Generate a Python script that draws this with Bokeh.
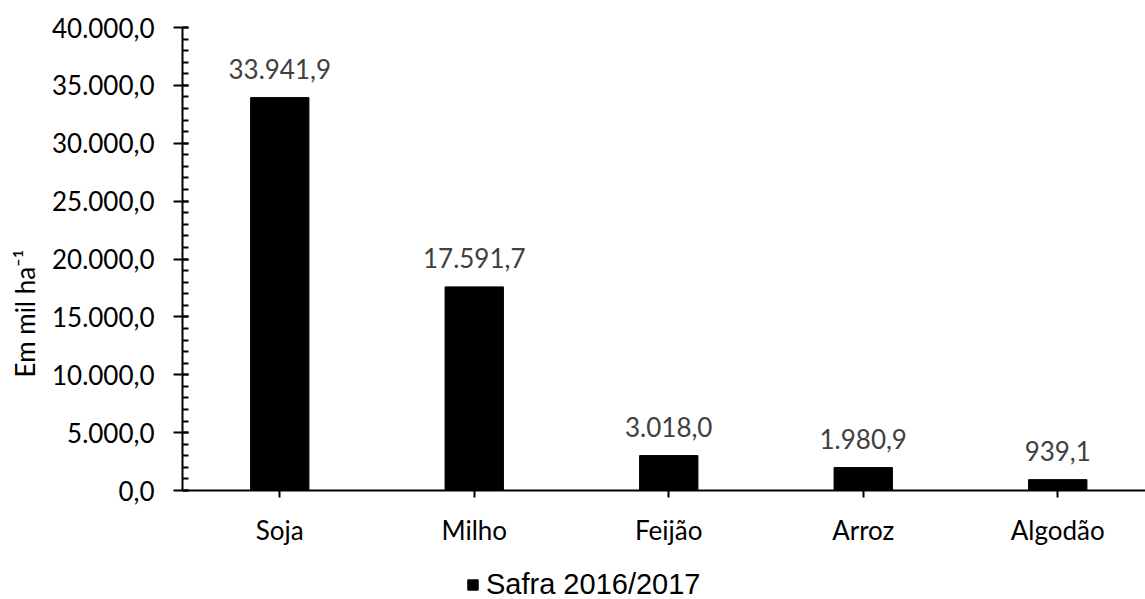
from bokeh.plotting import figure
from bokeh.models import Range1d, FixedTicker, ColumnDataSource, LabelSet, Legend, LegendItem
from bokeh.core.properties import value
from bokeh.embed import file_html
from bokeh.resources import INLINE

categories = ["Soja", "Milho", "Feijão", "Arroz", "Algodão"]
values = [33941.9, 17591.7, 3018.0, 1980.9, 939.1]
series_name = "Safra 2016/2017"
y_ticks = [0, 5000, 10000, 15000, 20000, 25000, 30000, 35000, 40000]
y_minor = [1000 * i for i in range(41)]
y_label = "Em mil ha⁻¹"


def br(v):
    s = f"{v:,.1f}"
    return s.replace(",", "X").replace(".", ",").replace("X", ".")


FONT = "Lato"
FS = "26px"

# layout (pixels)
W = 1145
H = 599
LEFT = 182
TOP = 27
ZERO_PX = 490
CAT_PX = 194.5
Y_MAX = 40000
units_per_px = Y_MAX / (ZERO_PX - TOP)
y_start = -(H - ZERO_PX) * units_per_px
x_end = (W - LEFT) / CAT_PX

xs = [i + 0.5 for i in range(len(categories))]
src = ColumnDataSource(dict(x=xs, top=values, label=[br(v) for v in values]))

p = figure(width=W, height=H,
           x_range=Range1d(0, x_end), y_range=Range1d(y_start, Y_MAX),
           output_backend="svg", toolbar_location=None,
           min_border_left=LEFT, min_border_right=0,
           min_border_top=TOP, min_border_bottom=0)
p.outline_line_color = None
p.xgrid.grid_line_color = None
p.ygrid.grid_line_color = None
p.background_fill_color = "white"
p.border_fill_color = "white"

r = p.vbar(x="x", top="top", bottom=0, width=0.3, source=src,
           fill_color="black", line_color="black")

labels = LabelSet(x="x", y="top", text="label", source=src,
                  text_align="center", text_baseline="alphabetic",
                  y_offset=19, text_font=value(FONT), text_font_size=FS,
                  text_color="#404040")
p.add_layout(labels)

# y axis
ya = p.yaxis[0]
ya.bounds = (0, Y_MAX)
ya.ticker = FixedTicker(ticks=y_ticks, minor_ticks=y_minor)
ya.major_label_overrides = {t: br(t) for t in y_ticks}
ya.major_label_text_font = FONT
ya.major_label_text_font_size = FS
ya.major_label_text_color = "black"
ya.major_label_standoff = 19
ya.axis_line_width = 2
ya.axis_line_color = "black"
ya.major_tick_line_width = 2
ya.minor_tick_line_width = 2
ya.major_tick_out = 9
ya.major_tick_in = 6
ya.minor_tick_in = 6
ya.minor_tick_out = 0
ya.axis_label = y_label
ya.axis_label_text_font = FONT
ya.axis_label_text_font_size = FS
ya.axis_label_text_font_style = "normal"
ya.axis_label_text_color = "black"
ya.axis_label_standoff = 8

# x axis (at y = 0)
xa = p.xaxis[0]
xa.fixed_location = 0
xa.ticker = FixedTicker(ticks=xs, minor_ticks=[])
xa.major_label_overrides = {x: c for x, c in zip(xs, categories)}
xa.major_label_text_font = FONT
xa.major_label_text_font_size = FS
xa.major_label_text_color = "black"
xa.major_label_standoff = 16
xa.axis_line_width = 2
xa.axis_line_color = "black"
xa.major_tick_line_width = 2
xa.major_tick_out = 7
xa.major_tick_in = 0
xa.minor_tick_line_color = None

legend = Legend(items=[LegendItem(label=series_name, renderers=[r])],
                location=(284, -2), orientation="horizontal",
                glyph_width=13, glyph_height=13, label_standoff=7,
                padding=0, margin=0, spacing=0,
                border_line_color=None, background_fill_alpha=0,
                label_text_font="Liberation Sans", label_text_font_size="29px",
                label_text_color="black")
p.add_layout(legend)

open("out.html", "w").write(file_html(p, INLINE))
